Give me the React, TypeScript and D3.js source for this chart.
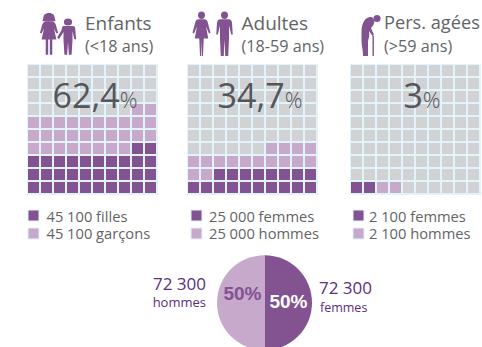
import React from "react";
import * as d3 from "d3";

const groupNames = ["Enfants", "Adultes", "Pers. agées"];
const groupRanges = ["(<18 ans)", "(18-59 ans)", "(>59 ans)"];
const percentValues = ["62,4", "34,7", "3"];
const darkCounts = [32, 18, 2];
const lightCounts = [30, 16, 2];
const fillFromRight = [true, true, false];
const darkLegend = ["45 100 filles", "25 000 femmes", "2 100 femmes"];
const lightLegend = ["45 100 garçons", "25 000 hommes", "2 100 hommes"];
const pieValues = [50, 50];
const pieLabels = ["50%", "50%"];

const DARK = "#825291";
const LIGHT = "#c7a9cb";
const GREY = "#d1d2d4";
const FRAME = "#e2f3fb";
const TEXT = "#636466";
const PURPLE = "#5b2d7c";
const FONT = "'Open Sans', 'Noto Sans', sans-serif";

const gridLefts = [27, 187, 350];
const gridTop = 64;
const gridSide = 131;
const percentX = [95, 260, 422];
const titleX = [85, 241.5, 384];
const titleY = [30, 30, 28.5];
const titleSize = [19, 19, 18.2];
const swatchX = [28, 191, 353];
const legendX = [46.5, 209, 369];

const cols = d3.range(10);
const Waffle = ({ left, dark, light, fromRight }: { left: number; dark: number; light: number; fromRight: boolean }) => {
  const x = d3.scaleBand<number>().domain(cols).range([left, left + gridSide]).paddingInner(0.15).paddingOuter(0.08).round(true);
  const y = d3.scaleBand<number>().domain(cols).range([gridTop + gridSide, gridTop]).paddingInner(0.15).paddingOuter(0.08).round(true);
  return (
    <g>
      <rect x={left} y={gridTop} width={gridSide} height={gridSide} fill={FRAME} />
      {d3.range(100).map((i) => {
        const row = Math.floor(i / 10);
        const col = fromRight ? 9 - (i % 10) : i % 10;
        return (
          <rect
            key={i}
            x={x(col)}
            y={y(row)}
            width={x.bandwidth()}
            height={y.bandwidth()}
            fill={i < dark ? DARK : i < dark + light ? LIGHT : GREY}
          />
        );
      })}
    </g>
  );
};

const Girl = ({ x, y }: any) => (
  <g transform={`translate(${x},${y}) scale(0.82,0.76)`} fill={DARK}>
    <path d="M0,-14 C-5,-14 -7,-11 -7,-7 L-8,-3 L8,-3 L7,-7 C7,-11 5,-14 0,-14Z" />
    <path d="M-4,-3 C-7,-2 -8,0 -9,4 L-11,12 L-9,13 L-6,6 L-9,21 L-4,21 L-4,41 L-1,41 L-1,21 L1,21 L1,41 L4,41 L4,21 L9,21 L6,6 L9,13 L11,12 L9,4 C8,0 7,-2 4,-3Z" />
  </g>
);
const Boy = ({ x, y }: any) => (
  <g transform={`translate(${x},${y}) scale(0.9,0.78)`} fill={DARK}>
    <circle cx={0} cy={-9} r={4.6} />
    <path d="M-5,-4 L5,-4 C7,-4 8,-3 8,-1 L9,13 L7,13 L5,3 L5,14 L4,33 L1,33 L0,17 L-1,33 L-4,33 L-5,14 L-5,4 L-10,13 L-12,11 L-7,1 C-7,-2 -6,-4 -5,-4Z" />
  </g>
);
const Woman = ({ x, y }: any) => (
  <g transform={`translate(${x},${y}) scale(0.75,0.8)`} fill={DARK}>
    <circle cx={0} cy={-9} r={4.6} />
    <path d="M-4,-4 L4,-4 C6,-4 7,-3 8,-1 L12,13 L10,14 L6,5 L9,20 L3,20 L2,42 L0.5,42 L0,22 L-0.5,42 L-2,42 L-3,20 L-9,20 L-6,5 L-10,14 L-12,13 L-8,-1 C-7,-3 -6,-4 -4,-4Z" />
  </g>
);
const Man = ({ x, y }: any) => (
  <g transform={`translate(${x},${y}) scale(0.75,0.8)`} fill={DARK}>
    <circle cx={0} cy={-9} r={4.6} />
    <path d="M-6,-4 L6,-4 C8,-4 9,-3 10,0 L11,15 L9,15 L6,4 L6,20 L5,42 L1,42 L0,21 L-1,42 L-5,42 L-6,20 L-6,4 L-9,15 L-11,15 L-10,0 C-9,-3 -8,-4 -6,-4Z" />
  </g>
);
const Elder = () => (
  <g fill={DARK}>
    <circle cx={377} cy={18.5} r={3.6} />
    <path d="M372,17 C366,16 361.5,22 361.5,32 L361.5,40 C361.5,46 363,50 363,56 L368,56 L368,42 C368,40 370,36 369,31 L372.5,36 L374,35 L371,28 C373,26 375,23 374,20Z" />
    <rect x={372.5} y={36} width={1.4} height={20} />
  </g>
);

export default function App() {
  const arcs = d3.pie<number>().sort(null)(pieValues);
  const arc = d3.arc<any>().innerRadius(0).outerRadius(47.5);
  return (
    <svg
      width={482}
      height={347}
      viewBox="0 0 482 347"
      style={{ position: "fixed", left: 0, top: 0, background: "#fff" }}
      fontFamily={FONT}
    >
      <Girl x={49} y={23.6} />
      <Boy x={68} y={29} />
      <Woman x={201.5} y={22.4} />
      <Man x={224.5} y={22.4} />
      <Elder />

      {groupNames.map((name, i) => (
        <g key={name}>
          <text x={titleX[i]} y={titleY[i]} fontSize={titleSize[i]} fill={TEXT}>{name}</text>
          <text x={titleX[i]} y={52} fontSize={16.2} fill={TEXT}>{groupRanges[i]}</text>
          <Waffle left={gridLefts[i]} dark={darkCounts[i]} light={lightCounts[i]} fromRight={fillFromRight[i]} />
          <text x={percentX[i]} y={108} textAnchor="middle" fill="#55565a">
            <tspan fontSize={34}>{percentValues[i]}</tspan>
            <tspan fontSize={22} fontWeight={300}>%</tspan>
          </text>
          <rect x={swatchX[i]} y={210} width={11} height={11} fill={DARK} stroke={FRAME} />
          <rect x={swatchX[i]} y={228} width={11} height={11} fill={LIGHT} stroke={FRAME} />
          <text x={legendX[i]} y={221.5} fontSize={14.7} fill={TEXT}>{darkLegend[i]}</text>
          <text x={legendX[i]} y={239} fontSize={14.7} fill={TEXT}>{lightLegend[i]}</text>
        </g>
      ))}

      <g transform="translate(264.5,302.7)">
        {arcs.map((a, i) => (
          <path key={i} d={arc(a) as string} fill={i === 0 ? DARK : LIGHT} />
        ))}
        <text x={24} y={5.5} textAnchor="middle" fontSize={19} fontWeight={700} fill="#fff" fontFamily="'Liberation Sans', sans-serif">{pieLabels[0]}</text>
        <text x={-22} y={-2.5} textAnchor="middle" fontSize={19} fontWeight={700} fill={DARK} fontFamily="'Liberation Sans', sans-serif">{pieLabels[1]}</text>
      </g>
      <text x={206} y={290} textAnchor="end" fontSize={17} fill={PURPLE}>72 300</text>
      <text x={206} y={307} textAnchor="end" fontSize={13} fill={PURPLE}>hommes</text>
      <text x={319} y={294} fontSize={17} fill={PURPLE}>72 300</text>
      <text x={320} y={312} fontSize={12.5} fill={PURPLE}>femmes</text>
    </svg>
  );
}
